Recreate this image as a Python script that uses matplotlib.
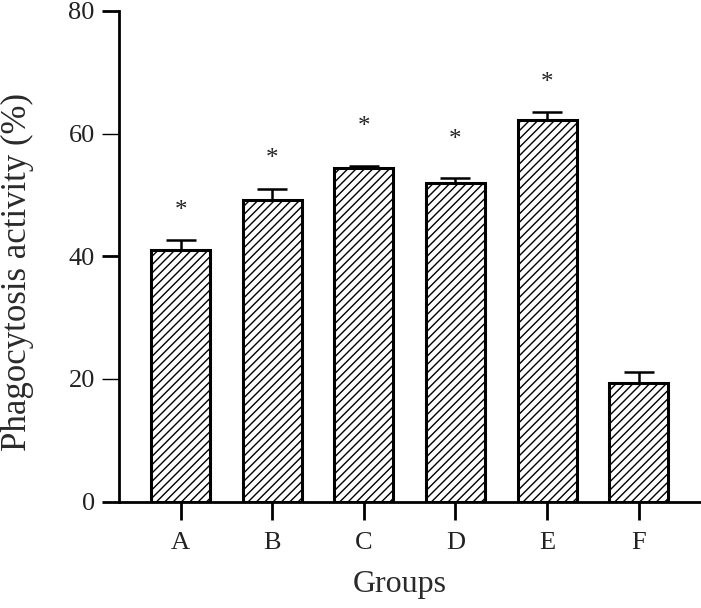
import numpy as np
import matplotlib.pyplot as plt

plt.rcParams['font.family'] = ['Liberation Serif', 'DejaVu Serif']
plt.rcParams['hatch.linewidth'] = 1.0

groups = ['A', 'B', 'C', 'D', 'E', 'F']
activity = [41.0, 49.2, 54.4, 52.0, 62.2, 19.4]
sem = [1.65, 1.7, 0.3, 0.7, 1.4, 1.7]
star_height = [47.4, 55.9, 61.1, 59.0, 68.3]   # '*' marks for A-E

fig = plt.figure(figsize=(7.01, 6.08), dpi=100)
ax = fig.add_axes([0.17, 0.175, 0.83, 0.807])

x = np.arange(len(groups))
ax.bar(x, activity, width=0.645, color='white', edgecolor='black',
       linewidth=2.2, hatch='////', zorder=2)
ax.errorbar(x, activity, yerr=[np.zeros(len(sem)), sem], fmt='none',
            ecolor='black', elinewidth=1.8, capsize=10.5, capthick=1.8, zorder=1)

for i, h in enumerate(star_height):
    ax.text(x[i], h, '*', ha='center', va='center', fontsize=18, color='#222222')

ax.set_xlim(-0.67, 5.68)
ax.set_ylim(0, 80)
ax.set_yticks([0, 20, 40, 60, 80])
ax.set_xticks(x)
ax.set_xticklabels(groups)

for s in ['top', 'right']:
    ax.spines[s].set_visible(False)
for s in ['left', 'bottom']:
    ax.spines[s].set_linewidth(2)

ax.tick_params(axis='y', length=12.5, width=2, labelsize=19, pad=5, labelcolor='#222222')
ax.tick_params(axis='x', length=13, width=2, labelsize=19, pad=9, labelcolor='#222222')
for t in [ax.yaxis.get_major_ticks()[1], ax.yaxis.get_major_ticks()[3]]:
    t.tick1line.set_markeredgewidth(1)
    t.tick1line.set_color('#555555')

ax.set_ylabel('Phagocytosis activity (%)', fontsize=25, color='#2a2a2a')
ax.yaxis.set_label_coords(-0.146, 0.467)
ax.set_xlabel('Groups', fontsize=23, color='#2a2a2a')
ax.xaxis.set_label_coords(0.483, -0.14)

plt.savefig('out.png', dpi=100)
